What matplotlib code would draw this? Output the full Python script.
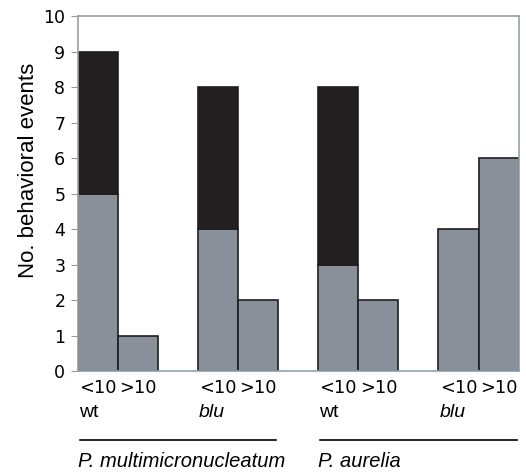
import matplotlib
matplotlib.use("Agg")
import matplotlib.pyplot as plt
import matplotlib.transforms as mtransforms

# bars: <10 and >10 for each strain
strains = ["wt", "blu", "wt", "blu"]
strain_italic = [False, True, False, True]
species = ["P. multimicronucleatum", "P. aurelia"]
bin_labels = ["<10", ">10"]
grey_vals = [[5, 1], [4, 2], [3, 2], [4, 6]]
black_vals = [[4, 0], [4, 0], [5, 0], [0, 0]]

grey = "#8a9099"
black = "#231f20"
edge = "#1e1e1e"

fig = plt.figure(figsize=(5.26, 4.73), dpi=100)
ax = fig.add_axes([0.148, 0.2156, 0.838, 0.7505])

xs, labs = [], []
for g in range(len(strains)):
    for b in range(2):
        x = g * 3 + b + 0.5
        gv = grey_vals[g][b]
        bv = black_vals[g][b]
        ax.bar(x, gv, width=1.0, color=grey, edgecolor=edge, linewidth=1.2, zorder=2)
        if bv:
            ax.bar(x, bv, bottom=gv, width=1.0, color=black, edgecolor=edge, linewidth=1.2, zorder=2)
        xs.append(x)
        labs.append(bin_labels[b])

ax.set_xlim(0, 11)
ax.set_ylim(0, 10)
ax.set_yticks(range(0, 11))
ax.tick_params(axis="y", labelsize=12.5, length=5, color="#999999", pad=4)
ax.set_xticks(xs)
ax.set_xticklabels(labs, fontsize=12.8)
ax.tick_params(axis="x", length=0, pad=6)
ax.set_ylabel("No. behavioral events", fontsize=16, family="Liberation Sans")
ax.yaxis.set_label_coords(-0.088, 0.566)

for s in ["top", "right", "left"]:
    ax.spines[s].set_color("#9aa0a6")
    ax.spines[s].set_linewidth(1.2)
ax.spines["bottom"].set_color("#8fa3ad")
ax.spines["bottom"].set_linewidth(1.2)

trans = mtransforms.blended_transform_factory(ax.transData, ax.transAxes)
for g, name in enumerate(strains):
    ax.text(g * 3 + 0.02, -0.118, name, transform=trans, fontsize=14,
            family="Liberation Sans", style="italic" if strain_italic[g] else "normal",
            ha="left", va="center")

for i, name in enumerate(species):
    x0 = i * 6
    ax.plot([x0 + 0.05, x0 + 4.95], [-0.194, -0.194], transform=trans, color="black",
            linewidth=1.2, clip_on=False)
    ax.text(x0 + 0.0, -0.256, name, transform=trans, fontsize=14.5,
            family="Liberation Sans", style="italic", ha="left", va="center")

fig.savefig("out.png", dpi=100)
